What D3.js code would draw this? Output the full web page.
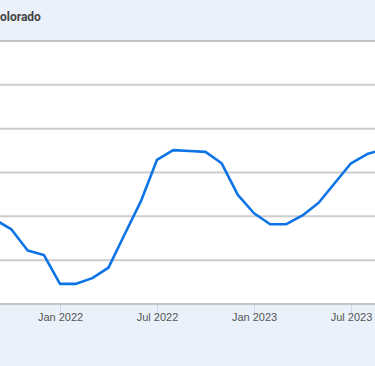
<!DOCTYPE html>
<html>
<head>
<meta charset="utf-8">
<script src="https://cdn.jsdelivr.net/npm/d3@7"></script>
<style>
  html, body { margin: 0; padding: 0; background: #eaf1fa; overflow: hidden; }
  svg { display: block; }
</style>
</head>
<body>
<svg id="chart" width="375" height="366"></svg>
<script>
// Data (monthly; y units arbitrary, gridlines every 10)
const title = "Colorado";
const months = ["Sep 2021","Oct 2021","Nov 2021","Dec 2021","Jan 2022","Feb 2022","Mar 2022","Apr 2022",
  "May 2022","Jun 2022","Jul 2022","Aug 2022","Sep 2022","Oct 2022","Nov 2022","Dec 2022",
  "Jan 2023","Feb 2023","Mar 2023","Apr 2023","May 2023","Jun 2023","Jul 2023","Aug 2023","Sep 2023"];
const values = [19.2, 17.0, 12.2, 11.2, 4.6, 4.6, 5.9, 8.3,
  15.9, 23.4, 32.9, 35.1, 34.9, 34.7, 32.1, 24.9,
  20.7, 18.2, 18.2, 20.2, 23.1, 27.6, 32.1, 34.2, 35.3];
const tickLabels = ["Jan 2022", "Jul 2022", "Jan 2023", "Jul 2023"];
const yTicks = [0, 10, 20, 30, 40, 50, 60];

(function () {
const svg = d3.select("#chart");
const W = 375, H = 366;
const plotTop = 41, plotBottom = 304;

svg.append("rect").attr("width", W).attr("height", H).attr("fill", "#eaf1fa");
svg.append("rect").attr("x", 0).attr("y", plotTop).attr("width", W).attr("height", plotBottom - plotTop).attr("fill", "#ffffff");

const x = d3.scaleLinear()
  .domain([months.indexOf("Jan 2022"), months.indexOf("Jul 2023")])
  .range([60, 351]);
const y = d3.scaleLinear().domain([0, 60]).range([plotBottom, plotTop]);

// gridlines
svg.append("g").selectAll("line").data(yTicks).join("line")
  .attr("x1", 0).attr("x2", W)
  .attr("y1", d => y(d)).attr("y2", d => y(d))
  .attr("stroke", d => (d === 0 || d === 60) ? "#c4c4c4" : "#cccccc")
  .attr("stroke-width", 2);

// x axis
const xAxis = d3.axisBottom(x)
  .tickValues(tickLabels.map(t => months.indexOf(t)))
  .tickFormat(i => months[i])
  .tickSize(8)
  .tickPadding(0);
const gx = svg.append("g").attr("transform", `translate(0,${plotBottom + 1})`).call(xAxis);
gx.select(".domain").remove();
gx.selectAll(".tick line").attr("stroke", "#c9d9ee").attr("stroke-width", 1);
gx.selectAll(".tick text")
  .attr("fill", "#555").attr("font-family", "Arial, 'Liberation Sans', sans-serif").attr("font-size", 11);

// line
const line = d3.line().x((d, i) => x(i)).y(d => y(d));
svg.append("path").datum(values)
  .attr("d", line)
  .attr("fill", "none")
  .attr("stroke", "#0d74e6")
  .attr("stroke-width", 2.6)
  .attr("stroke-linejoin", "round");

// title (left part cut off like the reference)
const meas = svg.append("text").attr("font-family", "Roboto, Arial, sans-serif")
  .attr("font-size", 12).attr("font-weight", "bold").text(title[0]);
const cw = meas.node().getComputedTextLength();
meas.remove();
svg.append("text")
  .attr("x", -cw).attr("y", 21)
  .attr("font-family", "Roboto, Arial, sans-serif")
  .attr("font-size", 12).attr("font-weight", "bold")
  .attr("fill", "#444")
  .text(title);
})();
</script>
</body>
</html>
